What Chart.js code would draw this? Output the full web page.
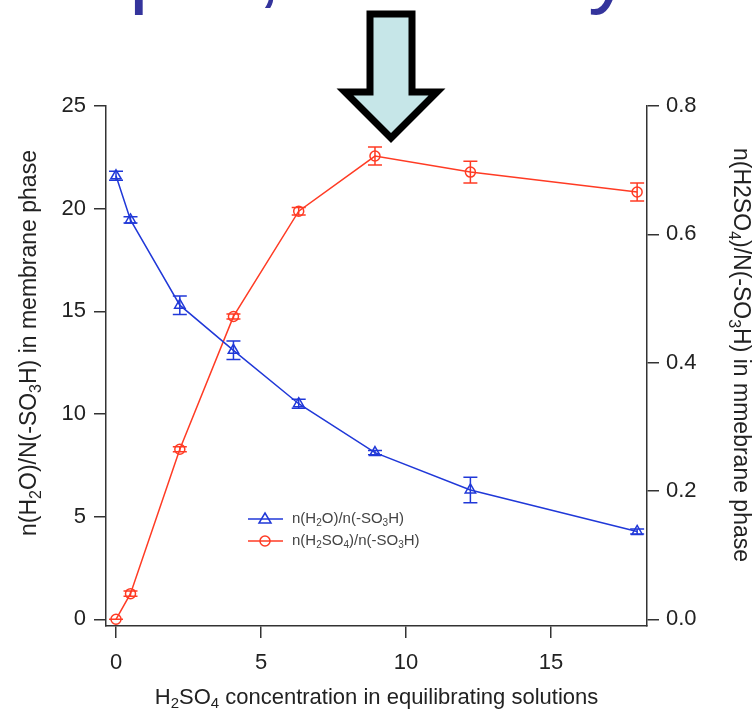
<!DOCTYPE html>
<html>
<head>
<meta charset="utf-8">
<script src="https://cdn.jsdelivr.net/npm/chart.js@4.4.1/dist/chart.umd.min.js"></script>
<style>
  html, body { margin: 0; padding: 0; background: #ffffff; }
  canvas { display: block; }
</style>
</head>
<body>
<canvas id="chart" width="756" height="715"></canvas>
<script>
// Acid concentration of the equilibrating solution
const concentration = [0, 0.5, 2.2, 4.05, 6.3, 8.93, 12.22, 17.97];

// n(H2O)/n(-SO3H), left axis
const waterRatio = [21.6, 19.45, 15.3, 13.1, 10.5, 8.12, 6.3, 4.28];
const waterErr = [0.22, 0.15, 0.45, 0.45, 0.22, 0.1, 0.62, 0.12];

// n(H2SO4)/n(-SO3H), right axis
const acidRatio = [0.0, 0.04, 0.265, 0.472, 0.636, 0.722, 0.697, 0.666];
const acidErr = [0.0, 0.004, 0.004, 0.004, 0.006, 0.014, 0.017, 0.014];

const xTicks = [0, 5, 10, 15];
const leftTicks = [0, 5, 10, 15, 20, 25];
const rightTicks = [0, 0.2, 0.4, 0.6, 0.8];

const BLUE = '#2038d8';
const RED = '#ff3b24';
const AXIS = '#333333';
const FONT = '"Liberation Sans", Arial, sans-serif';

// Text with subscripts: parts are [text, isSub]
function drawRich(ctx, parts, x, y, size, color, align) {
    const subSize = Math.round(size * 0.68);
    let width = 0;
    parts.forEach(([t, sub]) => {
        ctx.font = (sub ? subSize : size) + 'px ' + FONT;
        width += ctx.measureText(t).width;
    });
    let cx = align === 'left' ? x : x - width / 2;
    ctx.fillStyle = color;
    ctx.textBaseline = 'middle';
    ctx.textAlign = 'left';
    parts.forEach(([t, sub]) => {
        ctx.font = (sub ? subSize : size) + 'px ' + FONT;
        ctx.fillText(t, cx, sub ? y + size * 0.28 : y);
        cx += ctx.measureText(t).width;
    });
}

function drawMarker(ctx, style, x, y, color) {
    ctx.strokeStyle = color;
    ctx.lineWidth = 1.5;
    ctx.beginPath();
    if (style === 'triangle') {
        ctx.moveTo(x, y - 6);
        ctx.lineTo(x + 6, y + 4);
        ctx.lineTo(x - 6, y + 4);
        ctx.closePath();
    } else {
        ctx.arc(x, y, 5, 0, Math.PI * 2);
    }
    ctx.stroke();
}

// Vertical error bars with caps
const errorBars = {
    id: 'errorBars',
    afterDatasetsDraw(chart) {
        const ctx = chart.ctx;
        const xs = chart.scales.x;
        const sets = [
            { vals: waterRatio, errs: waterErr, scale: chart.scales.y, color: BLUE },
            { vals: acidRatio, errs: acidErr, scale: chart.scales.y1, color: RED }
        ];
        ctx.save();
        sets.forEach(s => {
            ctx.strokeStyle = s.color;
            ctx.lineWidth = 1.5;
            s.vals.forEach((v, i) => {
                const px = xs.getPixelForValue(concentration[i]);
                const top = s.scale.getPixelForValue(v + s.errs[i]);
                const bot = s.scale.getPixelForValue(v - s.errs[i]);
                ctx.beginPath();
                ctx.moveTo(px, top);
                ctx.lineTo(px, bot);
                ctx.moveTo(px - 7, top);
                ctx.lineTo(px + 7, top);
                ctx.moveTo(px - 7, bot);
                ctx.lineTo(px + 7, bot);
                ctx.stroke();
            });
        });
        ctx.restore();
    }
};

// Axis titles, legend and the pointer arrow above the plot
const decorations = {
    id: 'decorations',
    afterDraw(chart) {
        const ctx = chart.ctx;
        const area = chart.chartArea;
        ctx.save();

        // slide heading running off the top edge
        ctx.fillStyle = '#34349c';
        ctx.font = '88px ' + FONT;
        ctx.textBaseline = 'alphabetic';
        ctx.textAlign = 'left';
        ctx.fillText('p', 129, -3);
        ctx.fillText(',', 257, -3);
        ctx.fillText('y', 588, -3);

        // block arrow
        ctx.beginPath();
        ctx.moveTo(370, 14);
        ctx.lineTo(412, 14);
        ctx.lineTo(412, 92);
        ctx.lineTo(437, 92);
        ctx.lineTo(391, 138);
        ctx.lineTo(345, 92);
        ctx.lineTo(370, 92);
        ctx.closePath();
        ctx.fillStyle = '#c6e6e8';
        ctx.fill();
        ctx.lineWidth = 7;
        ctx.lineJoin = 'miter';
        ctx.strokeStyle = '#000000';
        ctx.stroke();

        // x title
        drawRich(ctx, [['H', 0], ['2', 1], ['SO', 0], ['4', 1], [' concentration in equilibrating solutions', 0]],
            (area.left + area.right) / 2, 698, 22, '#222222', 'center');

        // left title
        ctx.save();
        ctx.translate(30, 343);
        ctx.rotate(-Math.PI / 2);
        drawRich(ctx, [['n(H', 0], ['2', 1], ['O)/N(-SO', 0], ['3', 1], ['H) in membrane phase', 0]],
            0, 0, 23, '#222222', 'center');
        ctx.restore();

        // right title
        ctx.save();
        ctx.translate(740, 355);
        ctx.rotate(Math.PI / 2);
        drawRich(ctx, [['n(H2SO', 0], ['4', 1], [')/N(-SO', 0], ['3', 1], ['H) in mmebrane phase', 0]],
            0, 0, 23, '#222222', 'center');
        ctx.restore();

        // legend
        const rows = [
            { color: BLUE, style: 'triangle', parts: [['n(H', 0], ['2', 1], ['O)/n(-SO', 0], ['3', 1], ['H)', 0]] },
            { color: RED, style: 'circle', parts: [['n(H', 0], ['2', 1], ['SO', 0], ['4', 1], [')/n(-SO', 0], ['3', 1], ['H)', 0]] }
        ];
        rows.forEach((r, i) => {
            const y = 519 + i * 22;
            ctx.strokeStyle = r.color;
            ctx.lineWidth = 1.5;
            ctx.beginPath();
            ctx.moveTo(248, y);
            ctx.lineTo(283, y);
            ctx.stroke();
            drawMarker(ctx, r.style, 265, y, r.color);
            drawRich(ctx, r.parts, 292, y, 15, '#444444', 'left');
        });

        ctx.restore();
    }
};

const axisGrid = {
    display: true,
    drawOnChartArea: false,
    drawTicks: true,
    tickLength: 12,
    color: AXIS,
    lineWidth: 1.5
};
const axisBorder = { display: true, color: AXIS, width: 1.5 };
const tickFont = { family: FONT, size: 22 };

new Chart(document.getElementById('chart'), {
    type: 'line',
    data: {
        datasets: [
            {
                label: 'n(H2O)/n(-SO3H)',
                data: concentration.map((c, i) => ({ x: c, y: waterRatio[i] })),
                yAxisID: 'y',
                borderColor: BLUE,
                borderWidth: 1.5,
                pointStyle: 'triangle',
                pointRadius: 6,
                pointBorderWidth: 1.5,
                pointBorderColor: BLUE,
                pointBackgroundColor: 'rgba(0,0,0,0)',
                tension: 0,
                clip: false
            },
            {
                label: 'n(H2SO4)/n(-SO3H)',
                data: concentration.map((c, i) => ({ x: c, y: acidRatio[i] })),
                yAxisID: 'y1',
                borderColor: RED,
                borderWidth: 1.5,
                pointStyle: 'circle',
                pointRadius: 5,
                pointBorderWidth: 1.5,
                pointBorderColor: RED,
                pointBackgroundColor: 'rgba(0,0,0,0)',
                tension: 0,
                clip: false
            }
        ]
    },
    options: {
        responsive: false,
        animation: false,
        devicePixelRatio: 1,
        layout: { padding: { top: 106, left: 0, right: 0, bottom: 0 } },
        scales: {
            x: {
                type: 'linear',
                position: 'bottom',
                min: -0.345,
                max: 18.31,
                afterBuildTicks: s => { s.ticks = xTicks.map(v => ({ value: v })); },
                afterFit: s => { s.height = 89; },
                grid: axisGrid,
                border: axisBorder,
                ticks: { font: tickFont, color: '#222222', padding: 12, maxRotation: 0 }
            },
            y: {
                type: 'linear',
                position: 'left',
                min: -0.326,
                max: 25,
                afterBuildTicks: s => { s.ticks = leftTicks.map(v => ({ value: v })); },
                afterFit: s => { s.width = 106; },
                grid: axisGrid,
                border: axisBorder,
                ticks: { font: tickFont, color: '#222222', padding: 8 }
            },
            y1: {
                type: 'linear',
                position: 'right',
                min: -0.01043,
                max: 0.8,
                afterBuildTicks: s => { s.ticks = rightTicks.map(v => ({ value: v })); },
                afterFit: s => { s.width = 109; },
                grid: axisGrid,
                border: axisBorder,
                ticks: { font: tickFont, color: '#222222', padding: 7, callback: v => v.toFixed(1) }
            }
        },
        plugins: {
            legend: { display: false },
            tooltip: { enabled: false }
        }
    },
    plugins: [errorBars, decorations]
});
</script>
</body>
</html>
